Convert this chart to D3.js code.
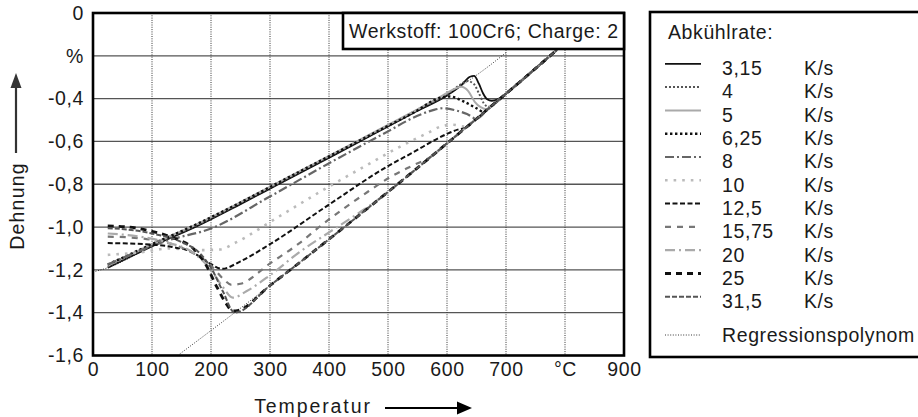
<!DOCTYPE html>
<html><head><meta charset="utf-8">
<script src="https://cdn.jsdelivr.net/npm/d3@7"></script>
<style>
html,body{margin:0;padding:0;background:#fff;}
svg text{font-family:"Liberation Sans",Arial,sans-serif;fill:#1a1a1a;letter-spacing:0.6px;}
</style></head><body>
<svg id="c" width="918" height="417"></svg>
<script>
// ---------- data ----------
const rateLabels = ["3,15","4","5","6,25","8","10","12,5","15,75","20","25","31,5"];
const xTickValues = [0,100,200,300,400,500,600,700,800,900];
const xTickLabels = ["0","100","200","300","400","500","600","700","°C","900"];
const yTickValues = [0,-0.2,-0.4,-0.6,-0.8,-1.0,-1.2,-1.4,-1.6];
const yTickLabels = ["0","%","-0,4","-0,6","-0,8","-1,0","-1,2","-1,4","-1,6"];

const s3_15 = [[25,-1.19],[100,-1.09],[177,-0.995],[250,-0.893],[311,-0.805],[380,-0.705],[449,-0.605],[500,-0.53],[550,-0.457],[600,-0.385],[625,-0.335],[639,-0.298],[646,-0.294],[654,-0.33],[661,-0.375],[668,-0.403],[676,-0.41],[685,-0.405],[700,-0.377],[740,-0.283],[786,-0.173]];
const s4 = [[25,-1.185],[100,-1.085],[177,-0.99],[250,-0.888],[311,-0.8],[380,-0.7],[449,-0.6],[500,-0.526],[550,-0.452],[600,-0.38],[620,-0.34],[634,-0.318],[645,-0.33],[654,-0.375],[662,-0.42],[670,-0.438],[680,-0.425],[700,-0.377],[740,-0.283],[786,-0.173]];
const s5 = [[25,-1.18],[100,-1.08],[177,-0.985],[250,-0.884],[311,-0.796],[380,-0.697],[449,-0.597],[500,-0.523],[550,-0.45],[590,-0.39],[610,-0.358],[624,-0.345],[636,-0.365],[647,-0.415],[657,-0.44],[668,-0.45],[680,-0.424],[700,-0.377],[740,-0.283],[786,-0.173]];
const s6_25 = [[25,-1.175],[100,-1.08],[177,-0.985],[250,-0.885],[311,-0.797],[380,-0.698],[449,-0.6],[500,-0.527],[550,-0.455],[576,-0.41],[590,-0.395],[605,-0.39],[627,-0.412],[650,-0.445],[662,-0.462],[670,-0.447],[700,-0.377],[740,-0.283],[786,-0.173]];
const s8 = [[25,-1.175],[80,-1.11],[130,-1.06],[200,-1.007],[300,-0.857],[398,-0.705],[500,-0.553],[550,-0.48],[575,-0.455],[593,-0.445],[615,-0.455],[634,-0.472],[650,-0.494],[670,-0.447],[700,-0.377],[740,-0.283],[786,-0.173]];
const s10 = [[25,-1.13],[80,-1.118],[130,-1.1],[180,-1.108],[215,-1.105],[240,-1.075],[311,-0.958],[390,-0.827],[458,-0.72],[520,-0.625],[566,-0.562],[590,-0.53],[610,-0.522],[628,-0.53],[645,-0.505],[670,-0.447],[700,-0.377],[740,-0.283],[786,-0.173]];
const s12_5 = [[25,-1.075],[88,-1.08],[134,-1.093],[168,-1.117],[195,-1.165],[219,-1.195],[250,-1.16],[300,-1.08],[400,-0.895],[500,-0.715],[540,-0.655],[600,-0.565],[618,-0.545],[632,-0.535],[650,-0.494],[670,-0.447],[700,-0.377],[740,-0.283],[786,-0.173]];
const s15_75 = [[25,-1.045],[60,-1.048],[100,-1.06],[140,-1.085],[175,-1.13],[200,-1.18],[220,-1.24],[235,-1.27],[250,-1.265],[300,-1.17],[350,-1.075],[390,-0.985],[458,-0.85],[503,-0.768],[540,-0.715],[572,-0.672],[600,-0.609],[630,-0.54],[650,-0.494],[670,-0.447],[700,-0.377],[740,-0.283],[786,-0.173]];
const s20 = [[25,-1.03],[80,-1.045],[130,-1.075],[170,-1.12],[200,-1.2],[220,-1.28],[237,-1.33],[260,-1.3],[300,-1.225],[351,-1.115],[400,-1.025],[450,-0.935],[490,-0.858],[537,-0.753],[570,-0.678],[600,-0.609],[630,-0.54],[650,-0.494],[670,-0.447],[700,-0.377],[740,-0.283],[786,-0.173]];
const s25 = [[25,-0.995],[60,-1.0],[100,-1.02],[140,-1.055],[170,-1.1],[190,-1.17],[210,-1.28],[225,-1.355],[237,-1.392],[245,-1.39],[300,-1.273],[351,-1.164],[400,-1.057],[450,-0.947],[500,-0.836],[537,-0.753],[570,-0.678],[600,-0.609],[630,-0.54],[650,-0.494],[670,-0.447],[700,-0.377],[740,-0.283],[786,-0.173]];
const s31_5 = [[25,-1.005],[60,-1.012],[100,-1.03],[150,-1.07],[180,-1.12],[200,-1.19],[220,-1.3],[240,-1.4],[300,-1.273],[351,-1.164],[400,-1.057],[450,-0.947],[500,-0.836],[537,-0.753],[570,-0.678],[600,-0.609],[630,-0.54],[650,-0.494],[670,-0.447],[700,-0.377],[740,-0.283],[786,-0.173]];
const regFerrite = [[0,-1.21],[25,-1.19],[100,-1.09],[177,-0.995],[250,-0.893],[311,-0.805],[380,-0.705],[449,-0.605],[500,-0.53],[550,-0.457],[600,-0.385],[640,-0.31],[670,-0.25],[700,-0.185]];
const regAustenite = [[147,-1.593],[240,-1.4],[300,-1.273],[351,-1.164],[400,-1.057],[450,-0.947],[500,-0.836],[537,-0.753],[570,-0.678],[600,-0.609],[630,-0.54],[650,-0.494],[670,-0.447],[700,-0.377],[740,-0.283],[786,-0.173]];

const seriesData = [s3_15,s4,s5,s6_25,s8,s10,s12_5,s15_75,s20,s25,s31_5];

// ---------- styles ----------
const styles = [
  {stroke:"#111", width:1.8, dash:null},
  {stroke:"#555", width:2, dash:"2,2"},
  {stroke:"#aaa", width:2, dash:null},
  {stroke:"#111", width:2.4, dash:"2.4,2.6"},
  {stroke:"#666", width:2.2, dash:"9,3,2,3"},
  {stroke:"#bbb", width:2.6, dash:"2.6,6"},
  {stroke:"#111", width:2, dash:"5,2.5"},
  {stroke:"#777", width:2.2, dash:"6,6"},
  {stroke:"#aaa", width:2.2, dash:"10,4,2,4"},
  {stroke:"#111", width:2.8, dash:"6,5"},
  {stroke:"#555", width:2, dash:"5,2"}
];
const regStyle = {stroke:"#222", width:0.9, dash:"1,1.6"};

// ---------- layout ----------
const svg = d3.select("#c");
const FS = 19.5;
const FF = "'Liberation Sans',Arial,sans-serif";
const x = d3.scaleLinear().domain([0,900]).range([93,624]);
const y = d3.scaleLinear().domain([-1.6,0]).range([355.5,13]);

// grid
svg.append("g").selectAll("line").data(yTickValues.slice(1,-1)).join("line")
  .attr("x1",x(0)).attr("x2",x(900)).attr("y1",d=>y(d)).attr("y2",d=>y(d))
  .attr("stroke","#555").attr("stroke-width",1.3);
svg.append("g").selectAll("line").data(xTickValues.slice(1,-1)).join("line")
  .attr("x1",d=>x(d)).attr("x2",d=>x(d)).attr("y1",y(0)).attr("y2",y(-1.6))
  .attr("stroke","#333").attr("stroke-width",1).attr("stroke-dasharray","1,1.3");

// axes labels via d3 axes
const yAxis = d3.axisLeft(y).tickValues(yTickValues).tickSize(0).tickPadding(9)
  .tickFormat((d,i)=>yTickLabels[i]);
const gy = svg.append("g").attr("transform",`translate(${x(0)},0)`).call(yAxis);
gy.select(".domain").remove();
gy.selectAll("text").style("font-size",FS+"px").style("font-family",FF).attr("fill","#1a1a1a");

const xAxis = d3.axisBottom(x).tickValues(xTickValues).tickSize(0).tickPadding(7)
  .tickFormat((d,i)=>xTickLabels[i]);
const gx = svg.append("g").attr("transform",`translate(0,${y(-1.6)})`).call(xAxis);
gx.select(".domain").remove();
gx.selectAll("text").style("font-size",FS+"px").style("font-family",FF).attr("fill","#1a1a1a");

// curves
const line = d3.line().x(d=>x(d[0])).y(d=>y(d[1])).curve(d3.curveMonotoneX);
const gc = svg.append("g").attr("fill","none");
[regFerrite, regAustenite].forEach(r=>{
  gc.append("path").attr("d",line(r)).attr("stroke",regStyle.stroke)
    .attr("stroke-width",regStyle.width).attr("stroke-dasharray",regStyle.dash);
});
seriesData.forEach((s,i)=>{
  const st = styles[i];
  gc.append("path").attr("d",line(s)).attr("stroke",st.stroke)
    .attr("stroke-width",st.width).attr("stroke-dasharray",st.dash)
    .attr("stroke-linejoin","round");
});

// frame
svg.append("rect").attr("x",x(0)).attr("y",y(0)).attr("width",x(900)-x(0)).attr("height",y(-1.6)-y(0))
  .attr("fill","none").attr("stroke","#000").attr("stroke-width",2.6);

// Werkstoff box
svg.append("rect").attr("x",343).attr("y",y(0)).attr("width",x(900)-343).attr("height",36)
  .attr("fill","#fff").attr("stroke","#000").attr("stroke-width",2.6);
svg.append("text").attr("x",349).attr("y",37.5).style("font-size",FS+"px")
  .text("Werkstoff: 100Cr6; Charge: 2");

// legend box
svg.append("rect").attr("x",650).attr("y",12).attr("width",320).attr("height",345)
  .attr("fill","#fff").attr("stroke","#000").attr("stroke-width",2.6);
svg.append("text").attr("x",668).attr("y",38.5).style("font-size",FS+"px").text("Abkühlrate:");
const lg = svg.append("g");
rateLabels.forEach((lab,i)=>{
  const yy = 68.3 + 23.3*i;
  const st = styles[i];
  lg.append("line").attr("x1",665).attr("x2",701).attr("y1",yy-4.5).attr("y2",yy-4.5)
    .attr("stroke",st.stroke).attr("stroke-width",st.width).attr("stroke-dasharray",st.dash);
  lg.append("text").attr("x",722).attr("y",yy+6.8).style("font-size",FS+"px").text(lab);
  lg.append("text").attr("x",804).attr("y",yy+6.8).style("font-size",FS+"px").text("K/s");
});
lg.append("line").attr("x1",665).attr("x2",700).attr("y1",335).attr("y2",335)
  .attr("stroke",regStyle.stroke).attr("stroke-width",regStyle.width).attr("stroke-dasharray",regStyle.dash);
lg.append("text").attr("x",722).attr("y",342).style("font-size",FS+"px").text("Regressionspolynom");

// axis titles with arrows
svg.append("text").attr("transform","translate(24,206) rotate(-90)").attr("text-anchor","middle")
  .style("font-size",FS+"px").style("letter-spacing","1.2px").text("Dehnung");
svg.append("line").attr("x1",16).attr("x2",16).attr("y1",153).attr("y2",86)
  .attr("stroke","#333").attr("stroke-width",2.2);
svg.append("path").attr("d","M16,73 L10.5,88 L21.5,88 Z").attr("fill","#333");

svg.append("text").attr("x",313).attr("y",413).attr("text-anchor","middle")
  .style("font-size",FS+"px").style("letter-spacing","1.9px").text("Temperatur");
svg.append("line").attr("x1",385).attr("x2",460).attr("y1",408).attr("y2",408)
  .attr("stroke","#000").attr("stroke-width",2.2);
svg.append("path").attr("d","M472,408 L457,401.5 L457,414.5 Z").attr("fill","#000");
</script>
</body></html>
